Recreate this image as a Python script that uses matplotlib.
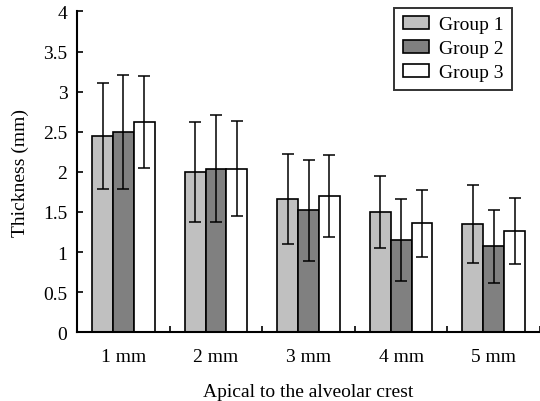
import matplotlib
matplotlib.use("Agg")
import matplotlib.pyplot as plt
import numpy as np

plt.rcParams['font.family'] = ['Liberation Serif', 'DejaVu Serif']

categories = ['1 mm', '2 mm', '3 mm', '4 mm', '5 mm']
groups = ['Group 1', 'Group 2', 'Group 3']

means = {
    'Group 1': [2.45, 2.00, 1.66, 1.50, 1.35],
    'Group 2': [2.50, 2.04, 1.52, 1.15, 1.07],
    'Group 3': [2.62, 2.04, 1.70, 1.36, 1.26],
}
sds = {
    'Group 1': [0.66, 0.62, 0.56, 0.45, 0.49],
    'Group 2': [0.71, 0.67, 0.63, 0.51, 0.45],
    'Group 3': [0.57, 0.59, 0.51, 0.42, 0.41],
}
colours = {'Group 1': '#c0c0c0', 'Group 2': '#808080', 'Group 3': '#ffffff'}

fig = plt.figure(figsize=(5.4, 4.02), dpi=100)
ax = fig.add_axes([0.143, 0.171, 0.857, 0.798])

x = np.arange(len(categories))
width = 0.225
for i, g in enumerate(groups):
    ax.bar(x + (i - 1) * width, means[g], width, color=colours[g],
           edgecolor='black', linewidth=1.2, label=g,
           yerr=sds[g], capsize=4,
           error_kw=dict(ecolor='black', elinewidth=1.1, capthick=1.1))

ax.set_xlim(-0.5, 4.5)
ax.set_ylim(0, 4)
ax.set_yticks(np.arange(0, 4.01, 0.5))
ax.set_yticklabels(['0', '0.5', '1', '1.5', '2', '2.5', '3', '3.5', '4'])
ax.set_xticks(x)
ax.set_xticklabels(categories)
ax.set_xticks(np.arange(0.5, 5, 1), minor=True)
ax.tick_params(axis='x', which='major', length=0, pad=11, labelsize=14)
ax.tick_params(axis='x', which='minor', direction='in', length=4, width=1.2)
ax.tick_params(axis='y', direction='in', length=4, width=1.2, labelsize=14, pad=7)

for s in ['top', 'right']:
    ax.spines[s].set_visible(False)
for s in ['left', 'bottom']:
    ax.spines[s].set_linewidth(1.5)

ax.set_ylabel('Thickness (mm)', fontsize=14, labelpad=10)
ax.set_xlabel('Apical to the alveolar crest', fontsize=14, labelpad=13)

leg = ax.legend(loc='upper right', bbox_to_anchor=(0.94, 1.012), fontsize=14,
                frameon=True, fancybox=False, edgecolor='black',
                handlelength=1.35, handleheight=0.6, labelspacing=0.36,
                borderpad=0.45, handletextpad=0.5, borderaxespad=0.0)
leg.get_frame().set_linewidth(1.4)

plt.savefig('out.png', dpi=100)
